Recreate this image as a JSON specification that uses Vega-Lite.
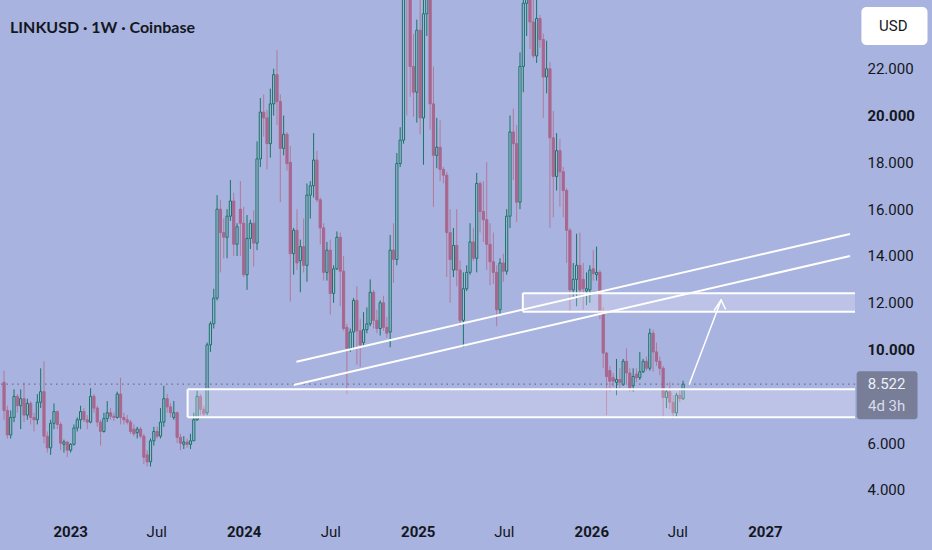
{
  "$schema": "https://vega.github.io/schema/vega-lite/v6.json",
  "width": 855,
  "height": 515,
  "autosize": {"type": "none"},
  "padding": {"left": 0, "top": 0, "right": 77, "bottom": 35},
  "background": "#a9b3df",
  "title": {
    "text": "LINKUSD · 1W · Coinbase",
    "anchor": "start",
    "frame": "group",
    "orient": "top",
    "offset": -44,
    "baseline": "middle",
    "dx": 10,
    "font": "Lato",
    "fontSize": 16,
    "fontWeight": "bold",
    "color": "#131722"
  },
  "config": {"view": {"stroke": null}, "font": "Roboto"},
  "datasets": {
    "candles": [
      {"d":"2022-08-15","o":8.6,"h":9.1,"l":7.0,"c":7.4},
      {"d":"2022-08-22","o":7.4,"h":7.6,"l":6.2,"c":6.35},
      {"d":"2022-08-29","o":6.35,"h":7.4,"l":6.2,"c":7.1},
      {"d":"2022-09-05","o":7.1,"h":8.3,"l":6.9,"c":8.0},
      {"d":"2022-09-12","o":8.0,"h":8.1,"l":7.3,"c":7.6},
      {"d":"2022-09-19","o":7.6,"h":8.3,"l":6.6,"c":7.9},
      {"d":"2022-09-26","o":7.9,"h":8.6,"l":6.9,"c":7.2},
      {"d":"2022-10-03","o":7.2,"h":7.9,"l":7.0,"c":7.7},
      {"d":"2022-10-10","o":7.7,"h":7.8,"l":6.8,"c":7.1},
      {"d":"2022-10-17","o":7.1,"h":7.3,"l":6.5,"c":7.0},
      {"d":"2022-10-24","o":7.0,"h":8.1,"l":6.8,"c":7.75},
      {"d":"2022-10-31","o":7.75,"h":9.2,"l":7.5,"c":8.2},
      {"d":"2022-11-07","o":8.2,"h":9.5,"l":6.0,"c":6.3},
      {"d":"2022-11-14","o":6.3,"h":6.5,"l":5.6,"c":5.8},
      {"d":"2022-11-21","o":5.8,"h":7.0,"l":5.5,"c":6.85},
      {"d":"2022-11-28","o":6.85,"h":7.7,"l":6.6,"c":7.35},
      {"d":"2022-12-05","o":7.35,"h":7.4,"l":6.6,"c":6.8},
      {"d":"2022-12-12","o":6.8,"h":6.9,"l":5.7,"c":6.0},
      {"d":"2022-12-19","o":5.95,"h":6.15,"l":5.6,"c":6.05},
      {"d":"2022-12-26","o":6.05,"h":6.1,"l":5.4,"c":5.7},
      {"d":"2023-01-02","o":5.7,"h":6.0,"l":5.6,"c":5.95},
      {"d":"2023-01-09","o":5.95,"h":6.8,"l":5.9,"c":6.65},
      {"d":"2023-01-16","o":6.65,"h":7.1,"l":6.5,"c":7.0},
      {"d":"2023-01-23","o":7.0,"h":7.6,"l":6.6,"c":7.35},
      {"d":"2023-01-30","o":7.35,"h":7.5,"l":6.9,"c":7.0},
      {"d":"2023-02-06","o":7.0,"h":7.2,"l":6.6,"c":6.9},
      {"d":"2023-02-13","o":6.9,"h":8.35,"l":6.85,"c":8.0},
      {"d":"2023-02-20","o":8.0,"h":8.1,"l":7.3,"c":7.5},
      {"d":"2023-02-27","o":7.5,"h":7.6,"l":6.7,"c":6.9},
      {"d":"2023-03-06","o":6.9,"h":7.0,"l":5.9,"c":6.5},
      {"d":"2023-03-13","o":6.5,"h":7.3,"l":6.45,"c":7.05},
      {"d":"2023-03-20","o":7.05,"h":7.8,"l":6.9,"c":7.3},
      {"d":"2023-03-27","o":7.3,"h":7.5,"l":7.0,"c":7.15},
      {"d":"2023-04-03","o":7.15,"h":7.3,"l":6.95,"c":7.1},
      {"d":"2023-04-10","o":7.1,"h":8.2,"l":7.05,"c":8.1},
      {"d":"2023-04-17","o":8.1,"h":8.8,"l":6.8,"c":7.1},
      {"d":"2023-04-24","o":7.1,"h":7.3,"l":6.8,"c":7.0},
      {"d":"2023-05-01","o":7.0,"h":7.2,"l":6.8,"c":6.9},
      {"d":"2023-05-08","o":6.9,"h":7.0,"l":6.4,"c":6.5},
      {"d":"2023-05-15","o":6.6,"h":6.8,"l":6.3,"c":6.4},
      {"d":"2023-05-22","o":6.45,"h":6.7,"l":6.2,"c":6.6},
      {"d":"2023-05-29","o":6.6,"h":6.7,"l":6.2,"c":6.3},
      {"d":"2023-06-05","o":6.3,"h":6.4,"l":5.1,"c":5.4},
      {"d":"2023-06-12","o":5.5,"h":5.7,"l":5.0,"c":5.2},
      {"d":"2023-06-19","o":5.2,"h":6.2,"l":5.0,"c":6.1},
      {"d":"2023-06-26","o":6.1,"h":6.7,"l":5.9,"c":6.5},
      {"d":"2023-07-03","o":6.5,"h":6.7,"l":6.2,"c":6.3},
      {"d":"2023-07-10","o":6.3,"h":7.5,"l":6.2,"c":6.9},
      {"d":"2023-07-17","o":6.9,"h":8.45,"l":6.7,"c":7.9},
      {"d":"2023-07-24","o":7.9,"h":8.1,"l":7.3,"c":7.55},
      {"d":"2023-07-31","o":7.55,"h":7.7,"l":7.1,"c":7.3},
      {"d":"2023-08-07","o":7.1,"h":7.8,"l":7.0,"c":7.3},
      {"d":"2023-08-14","o":7.3,"h":7.35,"l":6.0,"c":6.25},
      {"d":"2023-08-21","o":6.25,"h":6.4,"l":5.7,"c":6.0},
      {"d":"2023-08-28","o":5.95,"h":6.3,"l":5.75,"c":6.05},
      {"d":"2023-09-04","o":6.05,"h":6.2,"l":5.8,"c":5.95},
      {"d":"2023-09-11","o":5.95,"h":6.4,"l":5.75,"c":6.1},
      {"d":"2023-09-18","o":6.1,"h":7.3,"l":6.1,"c":7.0},
      {"d":"2023-09-25","o":7.0,"h":8.25,"l":6.95,"c":8.0},
      {"d":"2023-10-02","o":8.0,"h":8.1,"l":7.2,"c":7.45},
      {"d":"2023-10-09","o":7.45,"h":7.6,"l":7.1,"c":7.25},
      {"d":"2023-10-16","o":7.3,"h":10.3,"l":7.2,"c":10.2},
      {"d":"2023-10-23","o":10.2,"h":11.2,"l":9.9,"c":11.1},
      {"d":"2023-10-30","o":11.1,"h":12.6,"l":10.9,"c":12.2},
      {"d":"2023-11-06","o":12.2,"h":16.6,"l":12.1,"c":16.0},
      {"d":"2023-11-13","o":16.0,"h":16.4,"l":13.3,"c":15.0},
      {"d":"2023-11-20","o":15.0,"h":15.6,"l":13.9,"c":14.8},
      {"d":"2023-11-27","o":14.8,"h":16.0,"l":13.9,"c":15.7},
      {"d":"2023-12-04","o":15.7,"h":17.25,"l":15.5,"c":16.35},
      {"d":"2023-12-11","o":16.35,"h":16.7,"l":14.0,"c":14.5},
      {"d":"2023-12-18","o":14.5,"h":15.4,"l":14.0,"c":15.25},
      {"d":"2023-12-25","o":16.0,"h":17.2,"l":14.0,"c":15.4},
      {"d":"2024-01-01","o":15.4,"h":16.1,"l":13.1,"c":13.2},
      {"d":"2024-01-08","o":13.2,"h":15.75,"l":12.55,"c":14.75},
      {"d":"2024-01-15","o":14.75,"h":15.55,"l":14.3,"c":15.4},
      {"d":"2024-01-22","o":15.4,"h":15.95,"l":13.55,"c":14.55},
      {"d":"2024-01-29","o":14.55,"h":18.9,"l":14.25,"c":18.15},
      {"d":"2024-02-05","o":18.15,"h":20.75,"l":17.8,"c":20.15},
      {"d":"2024-02-12","o":20.15,"h":20.9,"l":19.1,"c":19.9},
      {"d":"2024-02-19","o":19.9,"h":20.25,"l":17.7,"c":18.8},
      {"d":"2024-02-26","o":18.8,"h":21.15,"l":18.2,"c":20.5},
      {"d":"2024-03-04","o":20.5,"h":22.0,"l":20.0,"c":21.75},
      {"d":"2024-03-11","o":21.75,"h":22.8,"l":19.6,"c":20.6},
      {"d":"2024-03-18","o":20.6,"h":20.9,"l":16.3,"c":18.6},
      {"d":"2024-03-25","o":18.6,"h":20.0,"l":18.3,"c":19.2},
      {"d":"2024-04-01","o":19.2,"h":19.3,"l":17.65,"c":17.95},
      {"d":"2024-04-08","o":18.0,"h":18.7,"l":12.05,"c":14.1},
      {"d":"2024-04-15","o":14.1,"h":15.2,"l":13.2,"c":15.1},
      {"d":"2024-04-22","o":15.1,"h":16.0,"l":13.4,"c":13.7},
      {"d":"2024-04-29","o":13.8,"h":14.7,"l":12.45,"c":14.4},
      {"d":"2024-05-06","o":14.4,"h":15.6,"l":13.3,"c":13.6},
      {"d":"2024-05-13","o":13.6,"h":17.1,"l":12.9,"c":16.6},
      {"d":"2024-05-20","o":16.6,"h":17.2,"l":15.6,"c":17.0},
      {"d":"2024-05-27","o":17.0,"h":19.25,"l":16.5,"c":18.1},
      {"d":"2024-06-03","o":18.1,"h":18.5,"l":16.3,"c":16.4},
      {"d":"2024-06-10","o":16.4,"h":16.5,"l":14.5,"c":15.2},
      {"d":"2024-06-17","o":15.2,"h":15.4,"l":12.95,"c":13.3},
      {"d":"2024-06-24","o":13.3,"h":14.6,"l":12.95,"c":14.25},
      {"d":"2024-07-01","o":14.25,"h":14.7,"l":11.5,"c":12.4},
      {"d":"2024-07-08","o":12.4,"h":13.6,"l":12.0,"c":13.45},
      {"d":"2024-07-15","o":13.45,"h":15.05,"l":13.4,"c":14.8},
      {"d":"2024-07-22","o":14.8,"h":15.0,"l":11.85,"c":13.35},
      {"d":"2024-07-29","o":13.35,"h":14.0,"l":10.8,"c":10.9},
      {"d":"2024-08-05","o":10.95,"h":11.1,"l":8.1,"c":10.05},
      {"d":"2024-08-12","o":10.05,"h":10.9,"l":9.9,"c":10.75},
      {"d":"2024-08-19","o":10.75,"h":12.2,"l":10.0,"c":12.1},
      {"d":"2024-08-26","o":12.1,"h":12.7,"l":9.35,"c":10.8},
      {"d":"2024-09-02","o":10.8,"h":11.3,"l":9.25,"c":10.2},
      {"d":"2024-09-09","o":10.3,"h":11.6,"l":10.1,"c":10.85},
      {"d":"2024-09-16","o":10.85,"h":11.8,"l":10.7,"c":11.1},
      {"d":"2024-09-23","o":11.1,"h":13.0,"l":11.0,"c":12.45},
      {"d":"2024-09-30","o":12.45,"h":12.55,"l":10.9,"c":11.25},
      {"d":"2024-10-07","o":11.25,"h":11.7,"l":10.7,"c":10.9},
      {"d":"2024-10-14","o":10.9,"h":12.1,"l":10.6,"c":12.0},
      {"d":"2024-10-21","o":12.0,"h":12.3,"l":10.8,"c":10.95},
      {"d":"2024-10-28","o":10.95,"h":11.4,"l":10.5,"c":10.7},
      {"d":"2024-11-04","o":10.75,"h":14.9,"l":10.1,"c":14.25},
      {"d":"2024-11-11","o":14.25,"h":15.4,"l":12.85,"c":13.85},
      {"d":"2024-11-18","o":13.85,"h":18.4,"l":13.6,"c":17.95},
      {"d":"2024-11-25","o":17.95,"h":19.5,"l":17.8,"c":18.95},
      {"d":"2024-12-02","o":18.95,"h":26.0,"l":18.8,"c":25.2},
      {"d":"2024-12-09","o":25.4,"h":30.9,"l":20.0,"c":25.1},
      {"d":"2024-12-16","o":25.1,"h":26.5,"l":20.8,"c":22.1},
      {"d":"2024-12-23","o":22.1,"h":23.5,"l":19.95,"c":21.0},
      {"d":"2024-12-30","o":21.0,"h":24.1,"l":19.7,"c":23.65},
      {"d":"2025-01-06","o":23.65,"h":25.3,"l":19.2,"c":19.9},
      {"d":"2025-01-13","o":19.9,"h":25.8,"l":17.9,"c":24.35},
      {"d":"2025-01-20","o":24.35,"h":26.5,"l":23.4,"c":25.6},
      {"d":"2025-01-27","o":25.6,"h":26.2,"l":19.4,"c":20.5},
      {"d":"2025-02-03","o":20.5,"h":22.1,"l":16.1,"c":18.3},
      {"d":"2025-02-10","o":18.3,"h":19.9,"l":17.75,"c":18.65},
      {"d":"2025-02-17","o":18.65,"h":19.8,"l":17.2,"c":17.7},
      {"d":"2025-02-24","o":17.7,"h":17.8,"l":17.1,"c":17.45},
      {"d":"2025-03-03","o":17.45,"h":17.6,"l":13.1,"c":15.0},
      {"d":"2025-03-10","o":15.0,"h":16.0,"l":12.0,"c":13.85},
      {"d":"2025-03-17","o":13.4,"h":15.2,"l":13.1,"c":14.45},
      {"d":"2025-03-24","o":14.45,"h":16.0,"l":12.7,"c":13.4},
      {"d":"2025-03-31","o":13.4,"h":13.8,"l":11.0,"c":11.25},
      {"d":"2025-04-07","o":11.25,"h":13.3,"l":10.1,"c":12.6},
      {"d":"2025-04-14","o":12.6,"h":13.6,"l":12.5,"c":13.3},
      {"d":"2025-04-21","o":13.3,"h":15.4,"l":13.2,"c":14.6},
      {"d":"2025-04-28","o":14.6,"h":15.2,"l":13.8,"c":13.9},
      {"d":"2025-05-05","o":13.9,"h":17.55,"l":13.3,"c":17.1},
      {"d":"2025-05-12","o":17.1,"h":17.2,"l":15.0,"c":15.9},
      {"d":"2025-05-19","o":15.9,"h":17.2,"l":14.6,"c":15.55},
      {"d":"2025-05-26","o":15.55,"h":18.0,"l":13.4,"c":14.5},
      {"d":"2025-06-02","o":14.5,"h":15.4,"l":12.75,"c":13.75},
      {"d":"2025-06-09","o":13.75,"h":15.0,"l":12.8,"c":13.3},
      {"d":"2025-06-16","o":13.3,"h":13.6,"l":11.0,"c":11.7},
      {"d":"2025-06-23","o":11.7,"h":13.9,"l":11.5,"c":13.7},
      {"d":"2025-06-30","o":13.7,"h":14.1,"l":12.9,"c":13.35},
      {"d":"2025-07-07","o":13.35,"h":16.0,"l":13.2,"c":15.7},
      {"d":"2025-07-14","o":15.7,"h":20.0,"l":15.2,"c":19.3},
      {"d":"2025-07-21","o":19.3,"h":20.3,"l":17.25,"c":18.8},
      {"d":"2025-07-28","o":18.8,"h":19.6,"l":15.45,"c":16.3},
      {"d":"2025-08-04","o":16.3,"h":22.7,"l":16.0,"c":22.1},
      {"d":"2025-08-11","o":22.1,"h":25.5,"l":21.0,"c":24.8},
      {"d":"2025-08-18","o":24.8,"h":27.9,"l":23.4,"c":26.5},
      {"d":"2025-08-25","o":26.5,"h":27.0,"l":22.85,"c":24.0},
      {"d":"2025-09-01","o":24.0,"h":25.5,"l":22.45,"c":22.55},
      {"d":"2025-09-08","o":22.55,"h":25.5,"l":22.25,"c":24.15},
      {"d":"2025-09-15","o":24.15,"h":24.3,"l":22.9,"c":23.25},
      {"d":"2025-09-22","o":23.25,"h":23.5,"l":19.9,"c":21.65},
      {"d":"2025-09-29","o":21.65,"h":23.2,"l":20.95,"c":22.0},
      {"d":"2025-10-06","o":22.0,"h":22.3,"l":15.2,"c":19.05},
      {"d":"2025-10-13","o":19.05,"h":20.2,"l":15.65,"c":17.4},
      {"d":"2025-10-20","o":17.4,"h":19.25,"l":16.8,"c":18.5},
      {"d":"2025-10-27","o":18.5,"h":19.0,"l":16.1,"c":17.6},
      {"d":"2025-11-03","o":17.6,"h":17.8,"l":15.65,"c":16.8},
      {"d":"2025-11-10","o":16.8,"h":16.9,"l":13.7,"c":15.1},
      {"d":"2025-11-17","o":15.1,"h":15.2,"l":11.6,"c":12.55},
      {"d":"2025-11-24","o":12.55,"h":13.7,"l":12.25,"c":13.0},
      {"d":"2025-12-01","o":13.0,"h":14.95,"l":11.85,"c":13.6},
      {"d":"2025-12-08","o":13.6,"h":15.0,"l":12.2,"c":12.55},
      {"d":"2025-12-15","o":13.0,"h":13.7,"l":11.7,"c":12.6},
      {"d":"2025-12-22","o":12.5,"h":13.3,"l":11.9,"c":12.6},
      {"d":"2025-12-29","o":12.55,"h":13.6,"l":12.0,"c":13.4},
      {"d":"2026-01-05","o":13.45,"h":14.25,"l":12.95,"c":13.25},
      {"d":"2026-01-12","o":13.2,"h":14.4,"l":12.95,"c":13.3},
      {"d":"2026-01-19","o":13.3,"h":13.4,"l":11.3,"c":11.6},
      {"d":"2026-01-26","o":11.6,"h":11.8,"l":9.2,"c":9.85},
      {"d":"2026-02-02","o":9.85,"h":9.9,"l":7.2,"c":8.85},
      {"d":"2026-02-09","o":9.1,"h":9.3,"l":8.2,"c":8.65},
      {"d":"2026-02-16","o":8.8,"h":9.0,"l":8.4,"c":8.65},
      {"d":"2026-02-23","o":8.6,"h":9.6,"l":8.05,"c":8.72},
      {"d":"2026-03-02","o":8.72,"h":9.2,"l":8.3,"c":8.6},
      {"d":"2026-03-09","o":8.5,"h":9.6,"l":8.45,"c":9.5},
      {"d":"2026-03-16","o":9.5,"h":10.05,"l":8.5,"c":9.0},
      {"d":"2026-03-23","o":9.0,"h":9.2,"l":8.2,"c":8.35},
      {"d":"2026-03-30","o":8.45,"h":9.2,"l":8.2,"c":8.85},
      {"d":"2026-04-06","o":8.95,"h":9.2,"l":8.6,"c":8.8},
      {"d":"2026-04-13","o":8.8,"h":9.9,"l":8.7,"c":9.05},
      {"d":"2026-04-20","o":9.05,"h":9.6,"l":9.0,"c":9.5},
      {"d":"2026-04-27","o":9.5,"h":9.7,"l":9.1,"c":9.2},
      {"d":"2026-05-04","o":9.2,"h":10.9,"l":9.1,"c":10.7},
      {"d":"2026-05-11","o":10.7,"h":10.85,"l":9.05,"c":9.9},
      {"d":"2026-05-18","o":9.9,"h":10.3,"l":9.3,"c":9.5},
      {"d":"2026-05-25","o":9.5,"h":9.7,"l":8.9,"c":9.2},
      {"d":"2026-06-01","o":9.2,"h":9.3,"l":7.05,"c":7.95},
      {"d":"2026-06-08","o":7.95,"h":8.3,"l":7.5,"c":8.2},
      {"d":"2026-06-15","o":8.2,"h":8.6,"l":7.45,"c":7.75},
      {"d":"2026-06-22","o":7.75,"h":8.05,"l":7.05,"c":7.3},
      {"d":"2026-06-29","o":7.3,"h":8.15,"l":7.1,"c":8.05},
      {"d":"2026-07-06","o":8.05,"h":8.3,"l":7.75,"c":7.9},
      {"d":"2026-07-13","o":7.9,"h":8.67,"l":7.85,"c":8.522}
    ],
    "zones": [
      {"d":"2023-09-05","d2":"2027-12-31","top":8.30,"bot":7.11},
      {"d":"2025-08-10","d2":"2027-12-31","top":12.41,"bot":11.62}
    ],
    "trends": [
      {"d":"2024-04-21","p":9.48,"d2":"2027-06-29","p2":14.94},
      {"d":"2024-04-15","p":8.49,"d2":"2027-06-29","p2":14.0}
    ],
    "arrow": [
      {"d":"2026-07-26","p":8.52,"d2":"2026-10-01","p2":12.12},
      {"d":"2026-09-17","p":11.69,"d2":"2026-10-01","p2":12.12},
      {"d":"2026-10-10","p":11.74,"d2":"2026-10-01","p2":12.12}
    ],
    "last": [
      {"p":8.522,"label":"8.522","timer":"4d 3h"}
    ]
  },
  "layer": [
    {
      "data": {"name": "candles"},
      "mark": {"type": "rule", "strokeWidth": 1, "clip": true},
      "encoding": {
        "x": {
          "field": "d",
          "type": "temporal",
          "title": null,
          "scale": {
            "type": "utc",
            "domain": [
              {"year": 2022, "month": 8, "date": 17, "utc": true},
              {"year": 2027, "month": 6, "date": 29, "utc": true}
            ]
          },
          "axis": {
            "title": null,
            "grid": false,
            "ticks": false,
            "domain": false,
            "labelOverlap": false,
            "labelFont": "Roboto",
            "labelFontSize": 15,
            "labelColor": "#131722",
            "labelPadding": 9,
            "values": [
              {"year": 2023, "month": 1, "date": 1, "utc": true},
              {"year": 2023, "month": 7, "date": 1, "utc": true},
              {"year": 2024, "month": 1, "date": 1, "utc": true},
              {"year": 2024, "month": 7, "date": 1, "utc": true},
              {"year": 2025, "month": 1, "date": 1, "utc": true},
              {"year": 2025, "month": 7, "date": 1, "utc": true},
              {"year": 2026, "month": 1, "date": 1, "utc": true},
              {"year": 2026, "month": 7, "date": 1, "utc": true},
              {"year": 2027, "month": 1, "date": 1, "utc": true}
            ],
            "labelExpr": "utcmonth(datum.value) == 0 ? utcFormat(datum.value, '%Y') : 'Jul'",
            "labelFontWeight": {"condition": {"test": "utcmonth(datum.value) == 0", "value": "bold"}, "value": "normal"}
          }
        },
        "y": {
          "field": "l",
          "type": "quantitative",
          "title": null,
          "scale": {"domain": [2.93, 24.94], "nice": false, "zero": false},
          "axis": {
            "orient": "right",
            "title": null,
            "grid": false,
            "ticks": false,
            "domain": false,
            "values": [4, 6, 10, 12, 14, 16, 18, 20, 22],
            "format": ".3f",
            "labelFont": "Roboto",
            "labelFontSize": 15,
            "labelColor": "#131722",
            "labelPadding": 12,
            "labelFontWeight": {"condition": {"test": "datum.value == 10 || datum.value == 20", "value": "bold"}, "value": "normal"}
          }
        },
        "y2": {"field": "h"},
        "color": {
          "condition": {"test": "datum.c >= datum.o", "value": "#177566"},
          "value": "#b0799c"
        }
      }
    },
    {
      "data": {"name": "candles"},
      "mark": {"type": "bar", "size": 2.2, "strokeWidth": 1, "clip": true},
      "encoding": {
        "x": {"field": "d", "type": "temporal", "title": null},
        "y": {"field": "o", "type": "quantitative", "title": null},
        "y2": {"field": "c"},
        "fill": {
          "condition": {"test": "datum.c >= datum.o", "value": "#a9b3df"},
          "value": "#a8678f"
        },
        "stroke": {
          "condition": {"test": "datum.c >= datum.o", "value": "#177566"},
          "value": "#a8678f"
        }
      }
    },
    {
      "data": {"name": "last"},
      "mark": {"type": "rule", "color": "#6a7090", "strokeWidth": 1.3, "strokeDash": [1.5, 4]},
      "encoding": {
        "y": {"field": "p", "type": "quantitative", "title": null}
      }
    },
    {
      "data": {"name": "zones"},
      "mark": {"type": "rect", "fill": "#ffffff", "fillOpacity": 0.22, "clip": true},
      "encoding": {
        "x": {"field": "d", "type": "temporal", "title": null},
        "x2": {"field": "d2"},
        "y": {"field": "top", "type": "quantitative", "title": null},
        "y2": {"field": "bot"}
      }
    },
    {
      "data": {"name": "zones"},
      "mark": {"type": "rule", "color": "#ffffff", "strokeWidth": 2, "clip": true},
      "encoding": {
        "x": {"field": "d", "type": "temporal", "title": null},
        "x2": {"field": "d2"},
        "y": {"field": "top", "type": "quantitative", "title": null}
      }
    },
    {
      "data": {"name": "zones"},
      "mark": {"type": "rule", "color": "#ffffff", "strokeWidth": 2, "clip": true},
      "encoding": {
        "x": {"field": "d", "type": "temporal", "title": null},
        "x2": {"field": "d2"},
        "y": {"field": "bot", "type": "quantitative", "title": null}
      }
    },
    {
      "data": {"name": "zones"},
      "mark": {"type": "rule", "color": "#ffffff", "strokeWidth": 2, "clip": true},
      "encoding": {
        "x": {"field": "d", "type": "temporal", "title": null},
        "y": {"field": "top", "type": "quantitative", "title": null},
        "y2": {"field": "bot"}
      }
    },
    {
      "data": {"name": "trends"},
      "mark": {"type": "rule", "color": "#ffffff", "strokeWidth": 2, "clip": true},
      "encoding": {
        "x": {"field": "d", "type": "temporal", "title": null},
        "x2": {"field": "d2"},
        "y": {"field": "p", "type": "quantitative", "title": null},
        "y2": {"field": "p2"}
      }
    },
    {
      "data": {"name": "arrow"},
      "mark": {"type": "rule", "color": "#ffffff", "strokeWidth": 1.5, "strokeCap": "round", "clip": true},
      "encoding": {
        "x": {"field": "d", "type": "temporal", "title": null},
        "x2": {"field": "d2"},
        "y": {"field": "p", "type": "quantitative", "title": null},
        "y2": {"field": "p2"}
      }
    },
    {
      "data": {"name": "last"},
      "mark": {"type": "rect", "fill": "#787d98", "cornerRadius": 3, "yOffset": -13, "y2Offset": 35},
      "encoding": {
        "x": {"datum": {"year": 2027, "month": 7, "date": 13, "utc": true}, "type": "temporal"},
        "x2": {"datum": {"year": 2027, "month": 11, "date": 18, "utc": true}},
        "y": {"field": "p", "type": "quantitative", "title": null},
        "y2": {"field": "p"}
      }
    },
    {
      "data": {"name": "last"},
      "mark": {"type": "text", "font": "Roboto", "fontSize": 15, "color": "#eef0f7", "align": "center", "baseline": "middle"},
      "encoding": {
        "x": {"datum": {"year": 2027, "month": 9, "date": 14, "utc": true}, "type": "temporal"},
        "y": {"field": "p", "type": "quantitative", "title": null},
        "text": {"field": "label"}
      }
    },
    {
      "data": {"name": "last"},
      "mark": {"type": "text", "font": "Roboto", "fontSize": 15, "color": "#d9dcea", "align": "center", "baseline": "middle", "dy": 22},
      "encoding": {
        "x": {"datum": {"year": 2027, "month": 9, "date": 14, "utc": true}, "type": "temporal"},
        "y": {"field": "p", "type": "quantitative", "title": null},
        "text": {"field": "timer"}
      }
    },
    {
      "data": {"values": [{"unit": "USD"}]},
      "mark": {"type": "rect", "fill": "#ffffff", "cornerRadius": 5},
      "encoding": {
        "x": {"datum": {"year": 2027, "month": 7, "date": 23, "utc": true}, "type": "temporal"},
        "x2": {"datum": {"year": 2027, "month": 12, "date": 9, "utc": true}},
        "y": {"datum": 24.64, "type": "quantitative"},
        "y2": {"datum": 23.02}
      }
    },
    {
      "data": {"values": [{"unit": "USD"}]},
      "mark": {"type": "text", "font": "Roboto", "fontSize": 15, "color": "#131722", "align": "center", "baseline": "middle"},
      "encoding": {
        "x": {"datum": {"year": 2027, "month": 9, "date": 28, "utc": true}, "type": "temporal"},
        "y": {"datum": 23.83, "type": "quantitative"},
        "text": {"field": "unit"}
      }
    }
  ]
}
